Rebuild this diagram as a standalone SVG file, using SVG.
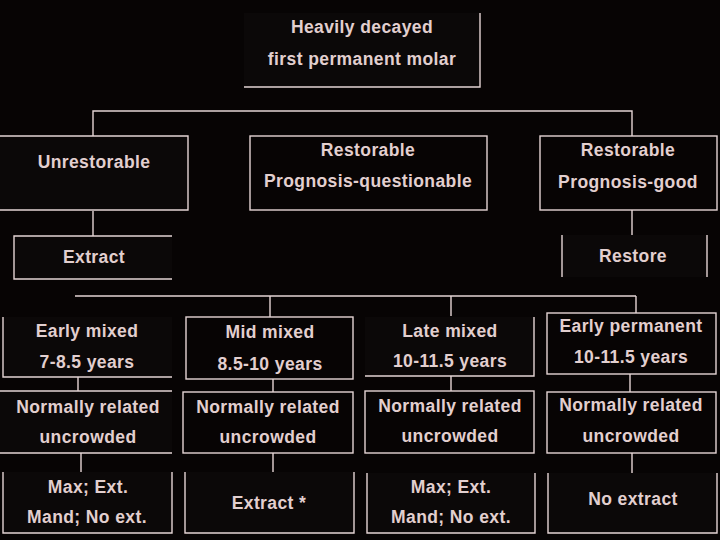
<svg xmlns="http://www.w3.org/2000/svg" width="720" height="540" viewBox="0 0 720 540">
<style>
.bg{fill:#070404}
.fill{fill:#0b0808}
.b{fill:none;stroke:#e4d4d4;stroke-width:1.4}
.c{fill:none;stroke:#e4d4d4;stroke-width:1.4}
text{font-family:"Liberation Sans",Arial,sans-serif;font-weight:bold;font-size:17.5px;letter-spacing:0.4px;fill:#e2cfcf;text-anchor:middle}
</style>
<rect class="bg" x="0" y="0" width="720" height="540"/>
<g id="connectors">
<path class="c" d="M93,136 V111 H632 V136"/>
<path class="c" d="M93,211 V236"/>
<path class="c" d="M632,210 V235"/>
<path class="c" d="M75,296 H636 M270,296 V317 M451,296 V316 M636,296 V313"/>
<path class="c" d="M78,377 V391 M273,379 V392 M451,376 V391 M630,374 V392"/>
<path class="c" d="M81,453 V472 M273,453 V472 M632,453 V473"/>
</g>
<g id="n-top">
<rect class="fill" x="244" y="13" width="236" height="74"/>
<path class="b" d="M480,13 V87 H244"/>
<text x="362" y="33">Heavily decayed</text>
<text x="362" y="65">first permanent molar</text>
</g>
<g id="n-unrestorable">
<rect class="fill" x="0" y="136" width="188" height="74"/>
<path class="b" d="M0,136 H188 V210 H0"/>
<text x="94" y="168">Unrestorable</text>
</g>
<g id="n-questionable">
<rect class="fill b" x="250" y="136" width="237" height="74"/>
<text x="368" y="156">Restorable</text>
<text x="368" y="187">Prognosis-questionable</text>
</g>
<g id="n-good">
<rect class="fill b" x="540" y="136" width="177" height="74"/>
<text x="628" y="156">Restorable</text>
<text x="628" y="188">Prognosis-good</text>
</g>
<g id="n-extract">
<rect class="fill" x="14" y="236" width="158" height="43"/>
<path class="b" d="M172,236 H14 V279 H172"/>
<text x="94" y="263">Extract</text>
</g>
<g id="n-restore">
<rect class="fill" x="562" y="235" width="145" height="42"/>
<path class="b" d="M562,235 V277 M707,235 V277"/>
<text x="633" y="262">Restore</text>
</g>
<g id="n-early-mixed">
<rect class="fill" x="3" y="317" width="169" height="60"/>
<path class="b" d="M3,317 V377 H172"/>
<text x="87" y="337">Early mixed</text>
<text x="87" y="368">7-8.5 years</text>
</g>
<g id="n-mid-mixed">
<rect class="fill b" x="186" y="317" width="167" height="62"/>
<text x="270" y="338">Mid mixed</text>
<text x="270" y="370">8.5-10 years</text>
</g>
<g id="n-late-mixed">
<rect class="fill" x="365" y="317" width="169" height="59"/>
<path class="b" d="M534,317 V376 H365"/>
<text x="450" y="337">Late mixed</text>
<text x="450" y="367">10-11.5 years</text>
</g>
<g id="n-early-permanent">
<rect class="fill b" x="547" y="313" width="169" height="61"/>
<text x="631" y="332">Early permanent</text>
<text x="631" y="363">10-11.5 years</text>
</g>
<g id="n-nr1">
<rect class="fill" x="0" y="391" width="172" height="62"/>
<path class="b" d="M0,391 H172 M0,453 H172"/>
<text x="88" y="413">Normally related</text>
<text x="88" y="443">uncrowded</text>
</g>
<g id="n-nr2">
<rect class="fill b" x="183" y="392" width="170" height="61"/>
<text x="268" y="413">Normally related</text>
<text x="268" y="443">uncrowded</text>
</g>
<g id="n-nr3">
<rect class="fill b" x="365" y="391" width="169" height="62"/>
<text x="450" y="412">Normally related</text>
<text x="450" y="442">uncrowded</text>
</g>
<g id="n-nr4">
<rect class="fill b" x="547" y="392" width="169" height="61"/>
<text x="631" y="411">Normally related</text>
<text x="631" y="442">uncrowded</text>
</g>
<g id="n-max1">
<rect class="fill" x="3" y="472" width="169" height="61"/>
<path class="b" d="M3,472 V533 H172 V472"/>
<text x="88" y="493">Max; Ext.</text>
<text x="87" y="523">Mand; No ext.</text>
</g>
<g id="n-extract-star">
<rect class="fill" x="185" y="472" width="169" height="61"/>
<path class="b" d="M185,472 V533 H354 V472"/>
<text x="269" y="509">Extract *</text>
</g>
<g id="n-max2">
<rect class="fill" x="367" y="473" width="168" height="60"/>
<path class="b" d="M367,473 V533 H535 V473"/>
<text x="451" y="493">Max; Ext.</text>
<text x="451" y="523">Mand; No ext.</text>
</g>
<g id="n-no-extract">
<rect class="fill" x="548" y="473" width="169" height="60"/>
<path class="b" d="M548,473 V533 H717 V473"/>
<text x="633" y="505">No extract</text>
</g>
</svg>
